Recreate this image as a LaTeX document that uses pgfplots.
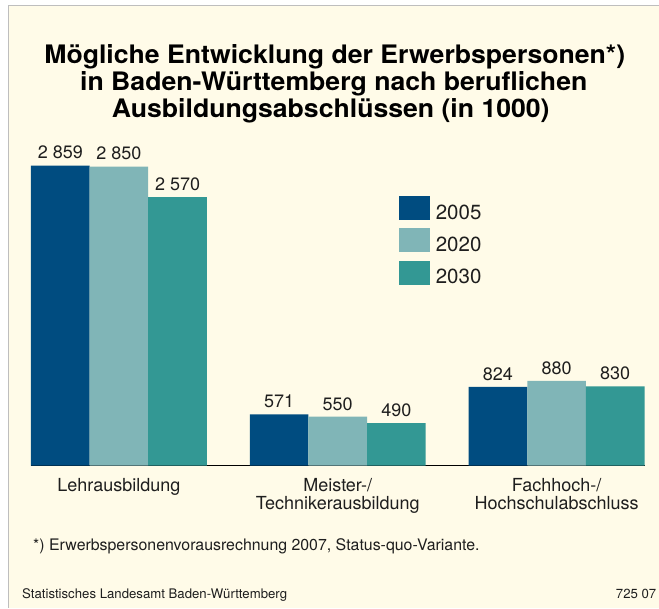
\documentclass[border=0pt]{standalone}
\usepackage{fontspec}
\setmainfont{TeX Gyre Heros}
\newfontfamily\titlefont[FakeStretch=1.045]{TeX Gyre Heros}
\usepackage{pgfplots}
\pgfplotsset{compat=1.18}
\definecolor{cream}{RGB}{255,251,232}
\definecolor{frame}{RGB}{190,190,190}
\definecolor{cA}{RGB}{0,76,128}
\definecolor{cB}{RGB}{128,181,183}
\definecolor{cC}{RGB}{51,152,148}
\definecolor{txt}{RGB}{30,30,30}
\begin{document}
\begin{tikzpicture}
% background
\fill[white] (0pt,0pt) rectangle (659pt,608pt);
\fill[cream] (9pt,0pt) rectangle (659pt,602pt);
\draw[frame, line width=1pt] (9pt,0pt) -- (9pt,602pt) -- (659pt,602pt);
% title
\node[anchor=base, inner sep=0pt, font=\titlefont\fontsize{25.5}{27.3}\selectfont\bfseries] at (335pt,544pt) {Mögliche Entwicklung der Erwerbspersonen*)};
\node[anchor=base, inner sep=0pt, font=\titlefont\fontsize{25.5}{27.3}\selectfont\bfseries] at (334pt,517pt) {in Baden-Württemberg nach beruflichen};
\node[anchor=base, inner sep=0pt, font=\titlefont\fontsize{25.5}{27.3}\selectfont\bfseries] at (331pt,490pt) {Ausbildungsabschlüssen (in 1000)};
% footnote and source
\node[anchor=base west, inner sep=0pt, text=txt, font=\fontsize{15.9}{18}\selectfont] at (33pt,57pt) {*) Erwerbspersonenvorausrechnung 2007, Status-quo-Variante.};
\node[anchor=base west, inner sep=0pt, text=txt, font=\fontsize{13.2}{15}\selectfont] at (22pt,9pt) {Statistisches Landesamt Baden-Württemberg};
\node[anchor=base east, inner sep=0pt, text=txt, font=\fontsize{13.2}{15}\selectfont] at (657pt,9pt) {725 07};
\begin{axis}[
  at={(31pt,142pt)}, anchor=south west,
  scale only axis, width=614pt, height=326.5pt,
  xmin=-0.4018, xmax=2.4018, ymin=100, ymax=3100,
  ybar=0pt, bar width=0.2679,
  axis x line=bottom, axis y line=none,
  axis line style={-},
  x axis line style={line width=1.2pt, black},
  xtick={0,1,2}, major tick length=0pt,
  xticklabels={Lehrausbildung, {Meister-/\\Technikerausbildung}, {Fachhoch-/\\Hochschulabschluss}},
  xticklabel style={align=center, anchor=north, inner sep=0pt, yshift=-12.5pt, text=txt, font=\fontsize{18}{18}\selectfont},
  nodes near coords,
  nodes near coords style={anchor=base, inner sep=0pt, yshift=6.7pt, text=txt, font=\fontsize{18}{18}\selectfont,
    /pgf/number format/assume math mode=true, /pgf/number format/1000 sep={\ }},
  legend image code/.code={\fill[#1] (0pt,-7.4pt) rectangle (31pt,16.6pt); \path (37pt,0pt);},
  legend style={at={(0.5993,0.8270)}, anchor=north west, draw=none, fill=none, inner sep=0pt,
    nodes={inner sep=0pt}, row sep=7.7pt, text=txt, font=\fontsize{20.5}{22}\selectfont},
  legend cell align=left,
]
\addplot[fill=cA, draw=none, bar shift=-0.2679] coordinates {(0,2859) (1,571) (2,824)};
\addplot[fill=cB, draw=none, bar shift=0] coordinates {(0,2850) (1,550) (2,880)};
\addplot[fill=cC, draw=none, bar shift=0.2679] coordinates {(0,2570) (1,490) (2,830)};
\legend{2005,2020,2030}
\end{axis}
\end{tikzpicture}
\end{document}
